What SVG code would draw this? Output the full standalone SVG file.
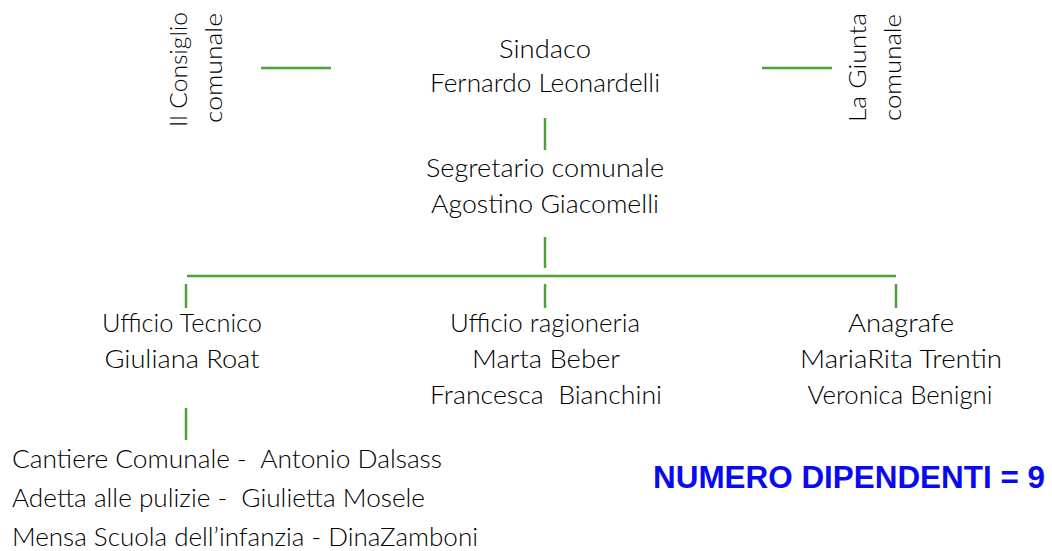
<svg xmlns="http://www.w3.org/2000/svg" width="1052" height="551" viewBox="0 0 1052 551" xml:space="preserve">
<style>
text{white-space:pre}
.t{font-family:"Lato","Open Sans","Liberation Sans",sans-serif;font-weight:300;font-size:25px;fill:#000000}
.c{text-anchor:middle}
.v{font-family:"Lato","Open Sans","Liberation Sans",sans-serif;font-weight:300;font-size:24px;fill:#000000}
.ln{stroke:#4ca338;stroke-width:2.5;fill:none}
.n{font-family:"Liberation Sans","DejaVu Sans",sans-serif;font-weight:bold;font-size:31px;fill:#0a0af0}
</style>
<rect width="1052" height="551" fill="#ffffff"/>
<g id="connectors">
<line class="ln" x1="261" y1="68" x2="331" y2="68"/>
<line class="ln" x1="762" y1="68" x2="832" y2="68"/>
<line class="ln" x1="545" y1="118" x2="545" y2="150"/>
<line class="ln" x1="545" y1="237" x2="545" y2="268"/>
<line class="ln" x1="187" y1="276" x2="896" y2="276"/>
<line class="ln" x1="186" y1="284" x2="186" y2="308"/>
<line class="ln" x1="545" y1="284" x2="545" y2="308"/>
<line class="ln" x1="896" y1="284" x2="896" y2="308"/>
<line class="ln" x1="186" y1="408" x2="186" y2="440"/>
</g>
<g id="consiglio">
<text class="v" transform="translate(187,127) rotate(-90)" textLength="115" lengthAdjust="spacingAndGlyphs">Il Consiglio</text>
<text class="v" transform="translate(222,123) rotate(-90)" textLength="110" lengthAdjust="spacingAndGlyphs">comunale</text>
</g>
<g id="giunta">
<text class="v" transform="translate(866,122) rotate(-90)" textLength="109" lengthAdjust="spacingAndGlyphs">La Giunta</text>
<text class="v" transform="translate(901,121) rotate(-90)" textLength="107" lengthAdjust="spacingAndGlyphs">comunale</text>
</g>
<g id="sindaco">
<text class="t c" x="545" y="58" textLength="92" lengthAdjust="spacingAndGlyphs">Sindaco</text>
<text class="t c" x="545" y="92" textLength="230" lengthAdjust="spacingAndGlyphs">Fernardo Leonardelli</text>
</g>
<g id="segretario">
<text class="t c" x="545" y="177" textLength="238" lengthAdjust="spacingAndGlyphs">Segretario comunale</text>
<text class="t c" x="545" y="213" textLength="228" lengthAdjust="spacingAndGlyphs">Agostino Giacomelli</text>
</g>
<g id="tecnico">
<text class="t c" x="182" y="332" textLength="160" lengthAdjust="spacingAndGlyphs">Ufficio Tecnico</text>
<text class="t c" x="182" y="368" textLength="155" lengthAdjust="spacingAndGlyphs">Giuliana Roat</text>
</g>
<g id="ragioneria">
<text class="t c" x="545" y="332" textLength="190" lengthAdjust="spacingAndGlyphs">Ufficio ragioneria</text>
<text class="t c" x="546" y="368" textLength="148" lengthAdjust="spacingAndGlyphs">Marta Beber</text>
<text class="t c" x="546" y="404" textLength="232" lengthAdjust="spacingAndGlyphs">Francesca  Bianchini</text>
</g>
<g id="anagrafe">
<text class="t c" x="901" y="332" textLength="106" lengthAdjust="spacingAndGlyphs">Anagrafe</text>
<text class="t c" x="901" y="368" textLength="202" lengthAdjust="spacingAndGlyphs">MariaRita Trentin</text>
<text class="t c" x="900" y="404" textLength="185" lengthAdjust="spacingAndGlyphs">Veronica Benigni</text>
</g>
<g id="cantiere">
<text class="t" x="12" y="468" textLength="430" lengthAdjust="spacingAndGlyphs">Cantiere Comunale -  Antonio Dalsass</text>
<text class="t" x="12" y="507" textLength="413" lengthAdjust="spacingAndGlyphs">Adetta alle pulizie -  Giulietta Mosele</text>
<text class="t" x="12" y="546" textLength="466" lengthAdjust="spacingAndGlyphs">Mensa Scuola dell’infanzia - DinaZamboni</text>
</g>
<g id="numero">
<text class="n" x="653" y="488" textLength="392" lengthAdjust="spacingAndGlyphs">NUMERO DIPENDENTI = 9</text>
</g>
</svg>
